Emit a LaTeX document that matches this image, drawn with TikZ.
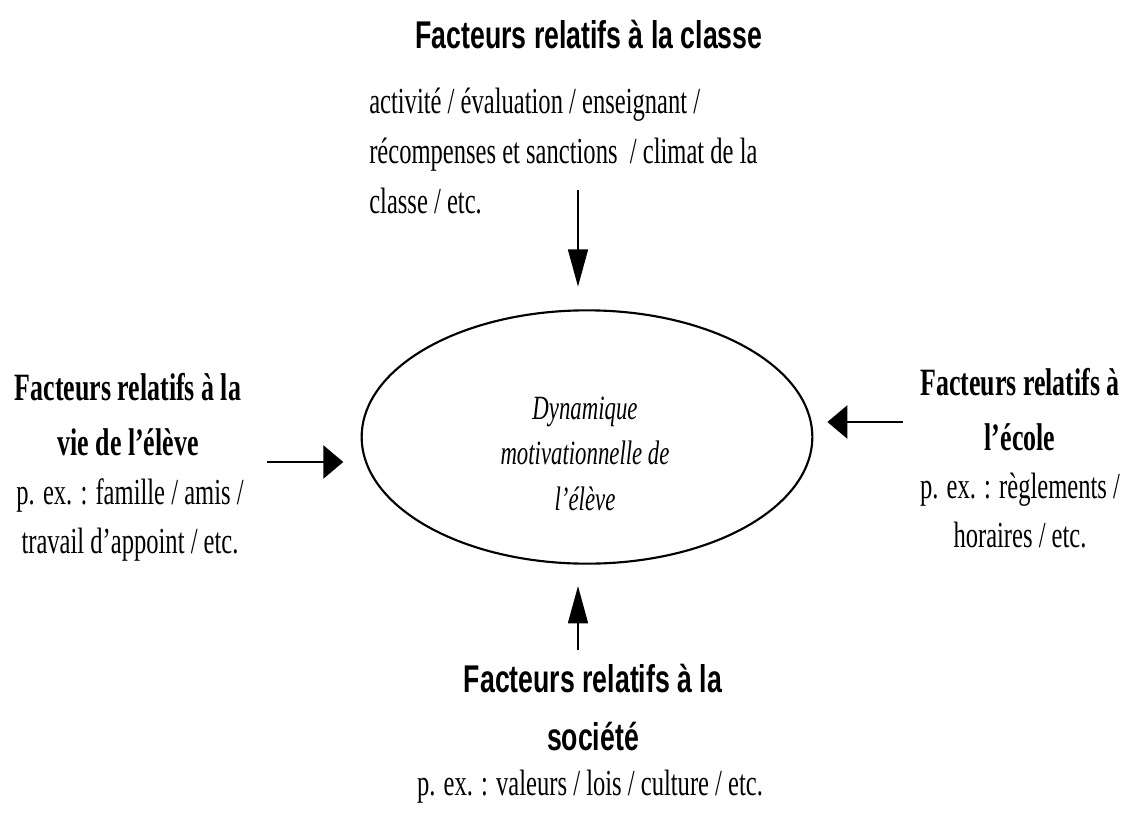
\documentclass[tikz,border=0pt]{standalone}
\usepackage{fontspec}
\setmainfont{Liberation Serif}[FakeStretch=0.67]
\newfontfamily\headfont{Liberation Sans}[FakeStretch=0.69]
\usetikzlibrary{arrows.meta, positioning, shapes.geometric}
\tikzset{
  sanshead/.style={font=\headfont\bfseries\fontsize{29}{43.5}\selectfont,
    align=center, inner sep=0pt},
  serifhead/.style={font=\bfseries\fontsize{29}{41}\selectfont,
    align=center, inner sep=0pt},
  body/.style={font=\fontsize{27.5}{36.5}\selectfont, inner sep=0pt},
  core/.style={ellipse, draw, line width=1.6pt, minimum width=338pt,
    minimum height=190pt, inner sep=0pt},
  coretext/.style={font=\itshape\fontsize{25.5}{34}\selectfont,
    align=center, inner sep=0pt},
  harrow/.style={-{Triangle[length=15pt, width=25pt]}, line width=1.3pt},
  varrow/.style={-{Triangle[length=28pt, width=15pt]}, line width=1.3pt}
}
\begin{document}
\begin{tikzpicture}[x=0.75pt, y=-0.75pt]
  \useasboundingbox (0,0) rectangle (1122,814);

  % Classe
  \node[sanshead, anchor=base] (classe) at (589,48) {Facteurs relatifs à la classe};
  \node[body, align=left, anchor=base west, font=\fontsize{27.5}{37.5}\selectfont]
    (classeex) at (369,213)
    {activité / évaluation / enseignant /\\récompenses et sanctions \ / climat de la\\classe / etc.};

  % Dynamique
  \node[core] (dyn) at (587,437) {};
  \node[coretext, anchor=base] (dyntext) at (585,510)
    {Dynamique\\motivationnelle de\\l’élève};

  % Vie de l'eleve
  \node[serifhead, anchor=base] (vie) at (128,455) {Facteurs relatifs à la\\vie de l’élève};
  \node[body, align=center, anchor=base] (vieex) at (130,553)
    {p. ex. : famille / amis /\\travail d’appoint / etc.};

  % Ecole
  \node[serifhead, anchor=base] (ecole) at (1020,450) {Facteurs relatifs à\\l’école};
  \node[body, align=center, anchor=base] (ecoleex) at (1020,547)
    {p. ex. : règlements /\\horaires / etc.};

  % Societe
  \node[sanshead, anchor=base] (societe) at (593,750) {Facteurs relatifs à la\\société};
  \node[body, anchor=base] (societeex) at (590,795)
    {p. ex. : valeurs / lois / culture / etc.};

  % Arrows
  \coordinate (toptail) at (578,190);
  \coordinate (lefttail) at (267,462);
  \coordinate (righttail) at (903,422);
  \coordinate (bottomtail) at (578,650);
  \draw[varrow, shorten >=17pt] (toptail) -- (toptail |- dyn.north);
  \draw[harrow, shorten >=13pt] (lefttail) -- (lefttail -| dyn.west);
  \draw[harrow, shorten >=10.5pt] (righttail) -- (righttail -| dyn.east);
  \draw[varrow, shorten >=16pt] (bottomtail) -- (bottomtail |- dyn.south);
\end{tikzpicture}
\end{document}
